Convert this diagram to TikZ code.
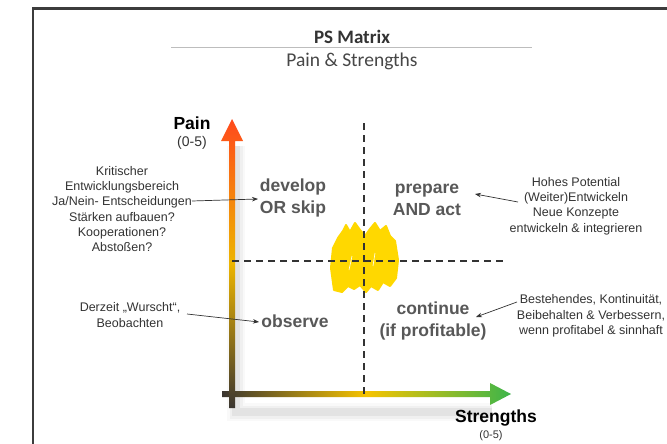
\documentclass[tikz,border=0pt]{standalone}
\usepackage{fontspec}
\setmainfont{Liberation Sans}
\newfontfamily\titlefont{Carlito}
\usetikzlibrary{arrows.meta}

\definecolor{framegray}{HTML}{3C3C3C}
\definecolor{rulegray}{HTML}{BDBDBD}
\definecolor{textdark}{HTML}{333333}
\definecolor{quadgray}{HTML}{585858}
\definecolor{axisdark}{HTML}{3A3530}
\definecolor{axisred}{HTML}{FF4A1C}
\definecolor{axisgold}{HTML}{EDB500}
\definecolor{axisyellow}{HTML}{F6C300}
\definecolor{axisgreen}{HTML}{3DB54A}
\definecolor{blob}{HTML}{FFD800}

\tikzset{
  titletext/.style={font=\titlefont\bfseries\fontsize{19}{23}\selectfont, text=textdark, inner sep=0pt},
  subtitletext/.style={font=\titlefont\fontsize{19.5}{23}\selectfont, text=textdark!90, inner sep=0pt},
  axislabel/.style={font=\bfseries\fontsize{17.5}{20}\selectfont, text=black, inner sep=0pt},
  rangelabel/.style={font=\fontsize{14}{16}\selectfont, text=textdark, inner sep=0pt},
  quadlabel/.style={font=\bfseries\fontsize{17.5}{22}\selectfont, text=quadgray, align=center, inner sep=1pt},
  note/.style={font=\fontsize{12.5}{15.3}\selectfont, text=textdark, align=center, inner sep=0pt},
  pointer/.style={draw=textdark, line width=0.7pt, -{Stealth[length=6pt,width=4.5pt]}},
  guide/.style={draw=textdark, line width=1.3pt, dash pattern=on 7pt off 5pt},
}

\begin{document}
\begin{tikzpicture}[x=1pt,y=-1pt]
\useasboundingbox (0,0) rectangle (667,444);
\fill[white] (0,0) rectangle (667,444);

% outer frame
\draw[framegray, line width=2.5pt] (33,444) -- (33,8.5) -- (667,8.5);

% heading
\node[titletext] (title) at (352,37) {PS Matrix};
\draw[rulegray, line width=1pt] (171,48) -- (532,48);
\node[subtitletext] (subtitle) at (352,61) {Pain \& Strengths};

% soft shadow under the axes
\foreach \w/\o in {18/0.025, 13/0.035, 8/0.05} {
  \draw[black, opacity=\o, line width=\w pt] (236,146) -- (236,412) -- (492,412);
}

% strengths axis (horizontal)
\shade[left color=axisdark, right color=axisgreen, middle color=axisyellow]
  (222,391) -- (490,391) -- (490,383) -- (511,394) -- (490,405) -- (490,397) -- (222,397) -- cycle;

% pain axis (vertical)
\shade[bottom color=axisdark, top color=axisred, middle color=axisgold]
  (229,408) -- (229,141) -- (221,141) -- (232,119) -- (243,141) -- (235,141) -- (235,408) -- cycle;

% highlighted centre of the matrix
\fill[blob, draw=blob, line width=2pt, line join=round]
  (334,290) -- (331,268) -- (333,248) -- (338,238) -- (343,231) -- (346,225) -- (350,232)
  -- (355,223) -- (360,230) -- (365,236) -- (370,229) -- (375,223) -- (380,231)
  -- (386,226) -- (390,236) -- (395,241) -- (398,260) -- (396,278) -- (390,286)
  -- (383,282) -- (378,290) -- (371,286) -- (366,292) -- (360,285) -- (354,289)
  -- (348,286) -- (342,292) -- cycle;
\draw[white, line width=0.6pt] (349,270) -- (352,256);
\draw[white, line width=0.6pt] (373,266) -- (375,253);

% quadrant guides
\coordinate (vtop) at (364,123);
\coordinate (vbot) at (364,394);
\coordinate (hleft) at (232,261);
\coordinate (hright) at (504,261);
\draw[guide] (vtop) -- (vbot);
\draw[guide] (hleft) -- (hright);

% axis labels
\node[axislabel] (painlbl) at (192,123) {Pain};
\node[rangelabel] (painrange) at (192,143) {(0-5)};
\node[axislabel] (strlbl) at (496,418) {Strengths};
\node[rangelabel, font=\fontsize{11}{13}\selectfont] (strrange) at (491,436) {(0-5)};

% quadrant labels
\node[quadlabel] (dev) at (293,198) {develop\\OR skip};
\node[quadlabel] (prep) at (427,200) {prepare\\AND act};
\node[quadlabel] (obs) at (295,321) {observe};
\node[quadlabel] (cont) at (433,321) {continue\\(if profitable)};

% explanatory notes
\node[note] (devnote) at (122,209) {Kritischer\\Entwicklungsbereich\\Ja/Nein- Entscheidungen\\Stärken aufbauen?\\Kooperationen?\\Abstoßen?};
\node[note] (obsnote) at (130,315) {Derzeit „Wurscht“,\\Beobachten};
\node[note] (prepnote) at (576,206) {Hohes Potential\\(Weiter)Entwickeln\\Neue Konzepte\\entwickeln \& integrieren};
\node[note] (contnote) at (591,316) {Bestehendes, Kontinuität,\\Beibehalten \& Verbessern,\\wenn profitabel \& sinnhaft};

% note pointers
\coordinate (devfrom) at (192,201);
\coordinate (devto) at (258,199);
\coordinate (obsfrom) at (187,314);
\coordinate (obsto) at (259,322);
\coordinate (prepfrom) at (518,202);
\coordinate (prepto) at (475,194);
\coordinate (contfrom) at (517,302);
\coordinate (contto) at (476,317);
\draw[pointer] (devfrom) -- (devto);
\draw[pointer] (obsfrom) -- (obsto);
\draw[pointer] (prepfrom) -- (prepto);
\draw[pointer] (contfrom) -- (contto);
\end{tikzpicture}
\end{document}
